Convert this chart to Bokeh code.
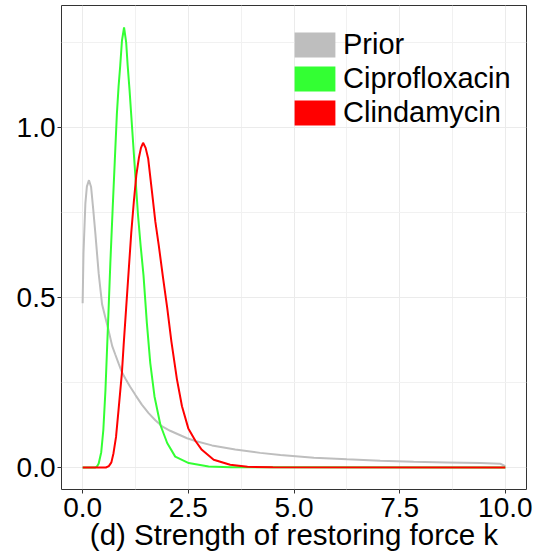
from bokeh.plotting import figure
from bokeh.models import FixedTicker, PrintfTickFormatter, Range1d, Legend, LegendItem
from bokeh.embed import file_html
from bokeh.resources import INLINE

# ---------------- data ----------------
series_names = ["Prior", "Ciprofloxacin", "Clindamycin"]
series_colors = ["#bebebe", "#33ff33", "#ff0000"]

prior_x = [0.0, 0.02, 0.065, 0.10, 0.15, 0.20, 0.25, 0.30, 0.38, 0.46, 0.54, 0.60, 0.70, 0.77,
           0.85, 0.93, 1.01, 1.12, 1.25, 1.40, 1.56, 1.72, 1.88, 2.07, 2.27, 2.47, 2.69, 3.06,
           3.61, 4.20, 4.68, 5.47, 6.25, 7.04, 7.83, 8.62, 9.41, 9.88, 10.0]
prior_y = [0.483, 0.63, 0.777, 0.826, 0.845, 0.825, 0.76, 0.69, 0.57, 0.48, 0.44, 0.41, 0.357, 0.333,
           0.306, 0.28, 0.262, 0.238, 0.213, 0.185, 0.160, 0.139, 0.121, 0.108, 0.097, 0.086, 0.077, 0.065,
           0.053, 0.043, 0.037, 0.029, 0.024, 0.020, 0.017, 0.015, 0.013, 0.011, 0.004]

cipro_x = [0.0, 0.30, 0.34, 0.38, 0.44, 0.49, 0.54, 0.60, 0.655, 0.71, 0.76, 0.81, 0.85, 0.89,
           0.93, 0.98, 1.03, 1.065, 1.11, 1.15, 1.23, 1.31, 1.37, 1.44, 1.52, 1.60, 1.70, 1.84,
           2.00, 2.19, 2.51, 2.98, 3.50, 10.0]
cipro_y = [0.0, 0.0, 0.003, 0.012, 0.045, 0.111, 0.228, 0.42, 0.60, 0.76, 0.90, 1.04, 1.12, 1.183,
           1.255, 1.294, 1.25, 1.183, 1.11, 1.036, 0.889, 0.742, 0.655, 0.565, 0.424, 0.307, 0.209, 0.125,
           0.072, 0.032, 0.013, 0.003, 0.0005, 0.0]

clinda_x = [0.0, 0.55, 0.62, 0.68, 0.73, 0.79, 0.85, 0.93, 0.97, 1.03, 1.09, 1.15, 1.21, 1.27,
            1.33, 1.38, 1.43, 1.49, 1.55, 1.64, 1.72, 1.80, 1.90, 2.00, 2.10, 2.23, 2.35, 2.50,
            2.67, 2.82, 3.10, 3.49, 3.90, 4.50, 10.0]
clinda_y = [0.0, 0.0, 0.004, 0.015, 0.042, 0.09, 0.17, 0.28, 0.36, 0.47, 0.58, 0.69, 0.78, 0.86,
            0.91, 0.94, 0.955, 0.94, 0.909, 0.811, 0.723, 0.654, 0.56, 0.47, 0.37, 0.26, 0.18, 0.115,
            0.078, 0.052, 0.023, 0.008, 0.002, 0.0005, 0.0]

x_ticks = [0.0, 2.5, 5.0, 7.5, 10.0]
x_minor_ticks = [1.25, 3.75, 6.25, 8.75]
y_ticks = [0.0, 0.5, 1.0]
y_minor_ticks = [0.25, 0.75, 1.25]
x_label = "(d) Strength of restoring force k"

# ---------------- figure ----------------
p = figure(width=537, height=555, output_backend="svg", toolbar_location=None,
           x_range=Range1d(-0.5, 10.5), y_range=Range1d(-0.0647, 1.3587),
           min_border_left=61, min_border_right=11, min_border_top=5, min_border_bottom=66)
p.background_fill_color = "white"
p.border_fill_color = "white"
p.outline_line_color = "#333333"
p.outline_line_width = 1

for ax, ticks, minor in ((p.xaxis[0], x_ticks, x_minor_ticks), (p.yaxis[0], y_ticks, y_minor_ticks)):
    ax.ticker = FixedTicker(ticks=ticks, minor_ticks=minor)
    ax.formatter = PrintfTickFormatter(format="%.1f")
    ax.axis_line_color = None
    ax.major_tick_line_color = "#333333"
    ax.major_tick_out = 4
    ax.major_tick_in = 0
    ax.minor_tick_line_color = None
    ax.major_label_text_font = "Liberation Sans"
    ax.major_label_text_font_size = "28px"
    ax.major_label_text_color = "black"

p.xaxis.major_label_standoff = 4
p.yaxis.major_label_standoff = 2

p.xaxis.axis_label = x_label
p.xaxis.axis_label_text_font = "Liberation Sans"
p.xaxis.axis_label_text_font_style = "normal"
p.xaxis.axis_label_text_font_size = "29.5px"
p.xaxis.axis_label_text_color = "black"
p.xaxis.axis_label_standoff = -2

for g in (p.xgrid[0], p.ygrid[0]):
    g.grid_line_color = "#ebebeb"
    g.grid_line_width = 1
    g.minor_grid_line_color = "#f1f1f1"
    g.minor_grid_line_width = 1

xs = [prior_x, cipro_x, clinda_x]
ys = [prior_y, cipro_y, clinda_y]
for x, y, c in zip(xs, ys, series_colors):
    p.line(x, y, line_color=c, line_width=2)

# legend keys: filled boxes (renderers with no drawable extent)
nan = float("nan")
items = []
for name, c in zip(series_names, series_colors):
    r = p.quad(left=[nan], right=[nan], top=[nan], bottom=[nan], fill_color=c, line_color=None)
    items.append(LegendItem(label=name, renderers=[r]))

legend = Legend(items=items, location=(228, 360), padding=0, margin=0, spacing=1,
                glyph_width=51, glyph_height=31, label_standoff=3,
                label_text_font="Liberation Sans", label_text_font_size="29px",
                label_text_color="black",
                background_fill_alpha=0, border_line_color=None)
p.add_layout(legend, "center")

open("out.html", "w").write(file_html(p, INLINE))
